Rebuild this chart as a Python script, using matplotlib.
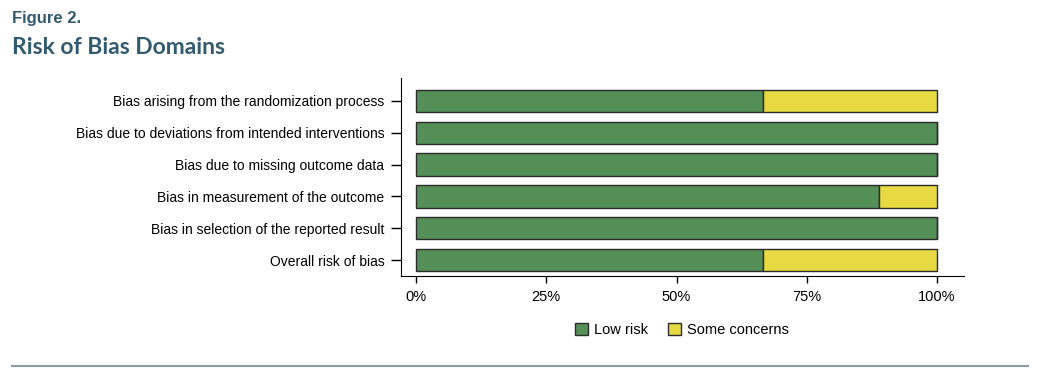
import matplotlib.pyplot as plt
from matplotlib.patches import Patch
from matplotlib.lines import Line2D

# data
domains = [
    "Bias arising from the randomization process",
    "Bias due to deviations from intended interventions",
    "Bias due to missing outcome data",
    "Bias in measurement of the outcome",
    "Bias in selection of the reported result",
    "Overall risk of bias",
]
low_risk = [66.7, 100, 100, 88.9, 100, 66.7]
some_concerns = [33.3, 0, 0, 11.1, 0, 33.3]
x_ticks = [0, 25, 50, 75, 100]
x_labels = ["0%", "25%", "50%", "75%", "100%"]

green = "#548f57"
yellow = "#e6d942"
title_col = "#345a70"
narrow = ["Liberation Sans", "DejaVu Sans"]

fig = plt.figure(figsize=(10.42, 3.8), dpi=100)
ax = fig.add_axes([401 / 1042, 1 - 276 / 380, (964 - 401) / 1042, (276 - 78) / 380])

ypos = list(range(len(domains)))
ax.barh(ypos, low_risk, height=0.7, color=green, edgecolor="#2b2b2b", linewidth=1)
ax.barh(ypos, some_concerns, left=low_risk, height=0.7, color=yellow,
        edgecolor="#2b2b2b", linewidth=1)

ax.set_xlim(-2.9, 105.2)
ax.set_ylim(5.5, -0.72)
ax.set_yticks(ypos)
ax.set_yticklabels(domains, fontfamily=narrow, fontsize=10)
ax.set_xticks(x_ticks)
ax.set_xticklabels(x_labels, fontfamily=narrow, fontsize=10.5)
ax.tick_params(axis="y", length=7, width=1, pad=5)
ax.tick_params(axis="x", length=5, width=1, pad=5)
for s in ["top", "right"]:
    ax.spines[s].set_visible(False)

handles = [Patch(facecolor=green, edgecolor="#2b2b2b", label="Low risk"),
           Patch(facecolor=yellow, edgecolor="#2b2b2b", label="Some concerns")]
fig.legend(handles=handles, loc="center", bbox_to_anchor=(682 / 1042, 1 - 330 / 380),
           ncol=2, frameon=False, prop={"family": narrow, "size": 10.5},
           handlelength=0.9, handleheight=0.9, handletextpad=0.4, columnspacing=1.4)

fig.text(12 / 1042, 1 - 18 / 380, "Figure 2.", fontfamily=narrow, fontsize=12,
         fontweight="bold", color=title_col, va="center")
fig.text(12 / 1042, 1 - 47 / 380, "Risk of Bias Domains", fontfamily=["Lato", "DejaVu Sans"],
         fontsize=16.5, fontweight="bold", color=title_col, va="center")

fig.add_artist(Line2D([12 / 1042, 1028 / 1042], [1 - 366 / 380, 1 - 366 / 380],
                      color="#8c9ba8", linewidth=1.5, transform=fig.transFigure))

fig.savefig("out.png", dpi=100)
